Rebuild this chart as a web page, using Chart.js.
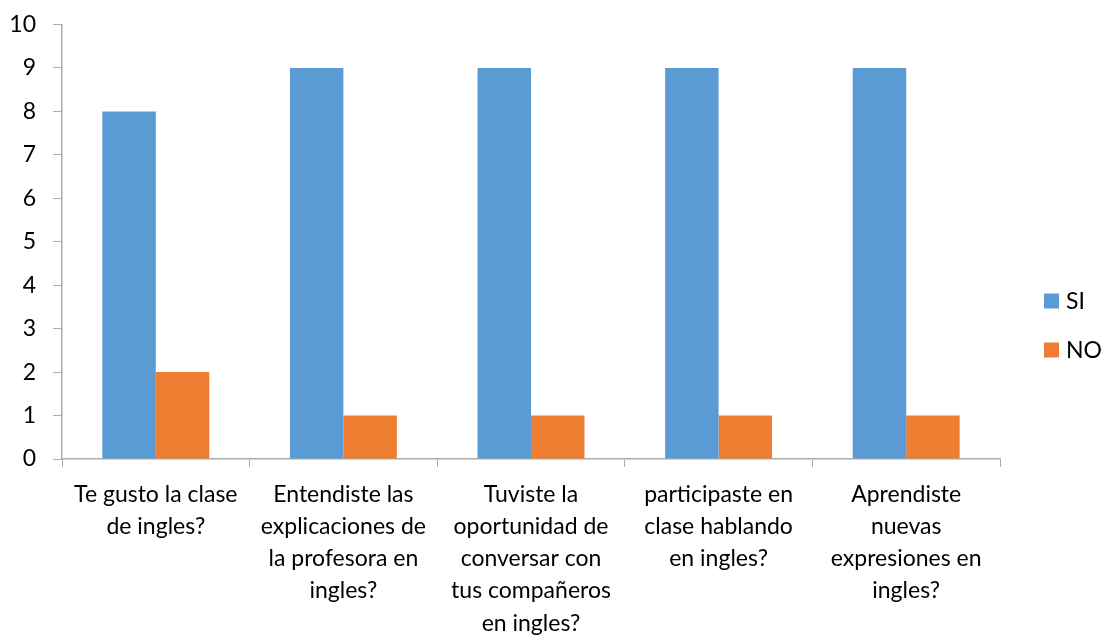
<!DOCTYPE html>
<html>
<head>
<meta charset="utf-8">
<script src="https://cdn.jsdelivr.net/npm/chart.js@4.4.1/dist/chart.umd.min.js"></script>
<style>
  html, body { margin: 0; padding: 0; background: #fff; }
  #wrap { width: 1102px; height: 637px; position: relative; }
</style>
</head>
<body>
<div id="wrap"><canvas id="chart"></canvas></div>
<script>
// survey questions, split into the lines shown under each group
const preguntas = [
    ['Te gusto la clase', 'de ingles?'],
    ['Entendiste las', 'explicaciones de', 'la profesora en', 'ingles?'],
    ['Tuviste la', 'oportunidad de', 'conversar con', 'tus compañeros', 'en ingles?'],
    ['participaste en', 'clase hablando', 'en ingles?'],
    ['Aprendiste', 'nuevas', 'expresiones en', 'ingles?']
];
const respuestas_si = [8, 9, 9, 9, 9];
const respuestas_no = [2, 1, 1, 1, 1];
const y_ticks = [0, 1, 2, 3, 4, 5, 6, 7, 8, 9, 10];

const axis_color = '#ababab';
const font_family = 'Lato, "Liberation Sans", sans-serif';
const font_size = 23;

Chart.defaults.font.family = font_family;
Chart.defaults.color = '#000';

// legend on the right, squares beside the series names
const sideLegend = {
    id: 'sideLegend',
    afterDraw(chart) {
        const ctx = chart.ctx;
        const area = chart.chartArea;
        const x = area.right + 44;
        const gap = 49;
        const sets = chart.data.datasets;
        const top = chart.height / 2 + 7 - gap * (sets.length - 1) / 2;
        ctx.save();
        ctx.font = font_size + 'px ' + font_family;
        ctx.textBaseline = 'middle';
        ctx.textAlign = 'left';
        sets.forEach((ds, i) => {
            const cy = top + i * gap;
            ctx.fillStyle = ds.backgroundColor;
            ctx.fillRect(x, cy - 7.5, 15, 15);
            ctx.fillStyle = '#000';
            ctx.fillText(ds.label, x + 22, cy + 1);
        });
        ctx.restore();
    }
};

new Chart(document.getElementById('chart').getContext('2d'), {
    type: 'bar',
    data: {
        labels: preguntas,
        datasets: [
            { label: 'SI', data: respuestas_si, backgroundColor: '#5B9BD5' },
            { label: 'NO', data: respuestas_no, backgroundColor: '#ED7D31' }
        ]
    },
    plugins: [sideLegend],
    options: {
        responsive: true,
        maintainAspectRatio: false,
        animation: false,
        layout: { padding: { top: 24.5, right: 102, left: 0, bottom: 0 } },
        datasets: {
            bar: { categoryPercentage: 0.57, barPercentage: 1.0 }
        },
        plugins: {
            tooltip: { enabled: false },
            legend: { display: false }
        },
        scales: {
            x: {
                afterFit: (scale) => { scale.height = 178; },
                grid: {
                    drawOnChartArea: false,
                    drawTicks: true,
                    tickLength: 8,
                    color: axis_color,
                    offset: true
                },
                border: { color: axis_color, width: 1.5 },
                ticks: {
                    autoSkip: false,
                    maxRotation: 0,
                    padding: 11,
                    font: { size: font_size, lineHeight: '32.3px' },
                    color: '#000'
                }
            },
            y: {
                min: 0,
                max: 10,
                afterFit: (scale) => {
                    scale.width = 62;
                    scale.paddingTop = 0;
                    scale.paddingBottom = 0;
                },
                afterBuildTicks: (axis) => {
                    axis.ticks = y_ticks.map(v => ({ value: v }));
                },
                grid: {
                    drawOnChartArea: false,
                    drawTicks: true,
                    tickLength: 9,
                    color: axis_color
                },
                border: { color: axis_color, width: 1.5 },
                ticks: {
                    padding: 17,
                    font: { size: font_size },
                    color: '#000'
                }
            }
        }
    }
});
</script>
</body>
</html>
